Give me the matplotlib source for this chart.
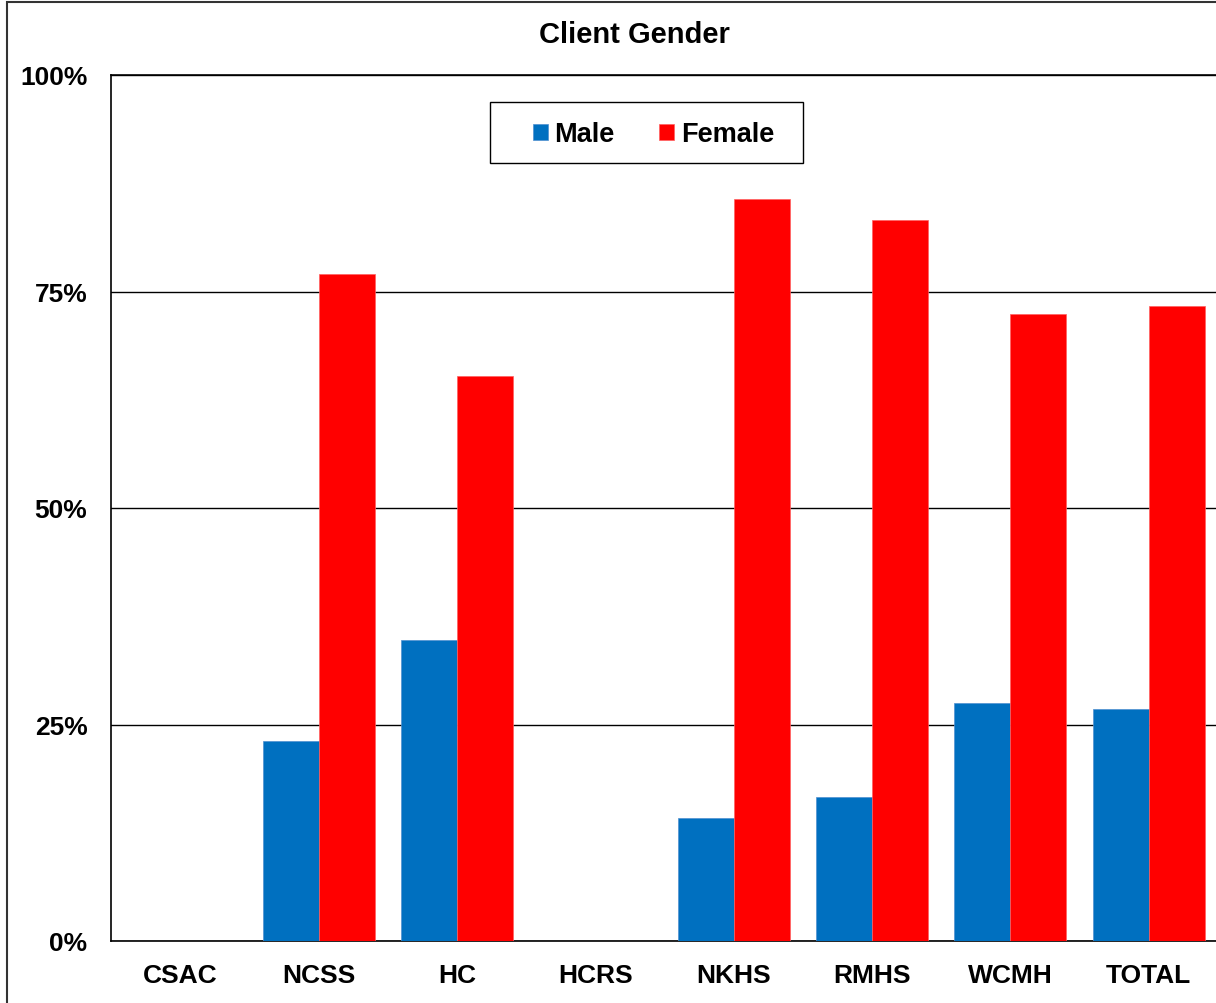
import matplotlib.pyplot as plt
from matplotlib.patches import Rectangle
from matplotlib.ticker import PercentFormatter
import numpy as np

plt.rcParams['font.family'] = ['Liberation Sans', 'DejaVu Sans']
plt.rcParams['font.weight'] = 'bold'

# Data (percent of clients)
agencies = ['CSAC', 'NCSS', 'HC', 'HCRS', 'NKHS', 'RMHS', 'WCMH', 'TOTAL']
male = [0, 23.1, 34.8, 0, 14.2, 16.6, 27.5, 26.8]
female = [0, 77.0, 65.2, 0, 85.7, 83.3, 72.4, 73.3]
yticks = [0, 25, 50, 75, 100]

W, H = 1216, 1004
fig = plt.figure(figsize=(W / 100, H / 100), dpi=100)
ax = fig.add_axes([111 / W, 62 / H, 1107 / W, 866 / H])

x = np.arange(len(agencies))
bw = 0.405
ax.bar(x - bw / 2, male, bw, color='#0070C0', edgecolor='#4f8fd0', linewidth=0.5, label='Male', zorder=3)
ax.bar(x + bw / 2, female, bw, color='#FF0000', edgecolor='#ff6060', linewidth=0.5, label='Female', zorder=3)

ax.set_xlim(-0.5, len(agencies) - 0.5)
ax.set_ylim(0, 100)
ax.set_yticks(yticks)
ax.yaxis.set_major_formatter(PercentFormatter(decimals=0))
ax.set_xticks(x)
ax.set_xticklabels(agencies)
ax.tick_params(axis='both', length=0, labelsize=19)
ax.tick_params(axis='y', pad=17)
ax.tick_params(axis='x', pad=16)
ax.grid(axis='y', color='black', linewidth=1, zorder=1)
for s in ['left', 'bottom', 'top', 'right']:
    ax.spines[s].set_linewidth(1.2)
    ax.spines[s].set_color('black')

# legend without its own frame; the box is drawn separately
leg = ax.legend(loc='center', bbox_to_anchor=(653.5 / W, 1 - 135.5 / H),
                bbox_transform=fig.transFigure, ncol=2, fontsize=19.5,
                frameon=False, handlelength=0.55, handleheight=0.55,
                handletextpad=0.25, columnspacing=1.65, borderpad=0,
                borderaxespad=0)
fig.patches.append(Rectangle((490 / W, 1 - 164 / H), 313 / W, 61 / H,
                             transform=fig.transFigure, fill=False,
                             edgecolor='black', linewidth=1.0, zorder=5))

fig.text(634 / W, 1 - 35 / H, 'Client Gender', ha='center', va='center',
         fontsize=21, fontweight='bold')

# outer chart border
fig.patches.append(Rectangle((7 / W, -0.05), 1.2, 1 - 3 / H + 0.05,
                             transform=fig.transFigure, fill=False,
                             edgecolor='#333333', linewidth=1.5))

fig.savefig('out.png', dpi=100)
